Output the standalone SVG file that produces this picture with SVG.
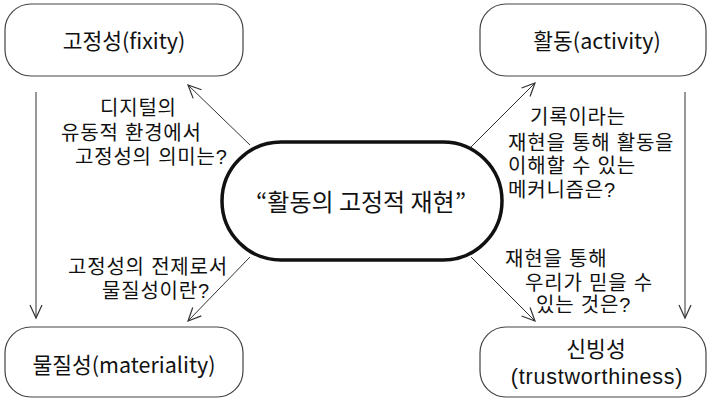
<svg xmlns="http://www.w3.org/2000/svg" width="708" height="398" viewBox="0 0 708 398">
<defs>
<marker id="arr" markerWidth="16" markerHeight="16" refX="14" refY="8" orient="auto" markerUnits="userSpaceOnUse">
<path d="M1,2 L14,8 L1,14" fill="none" stroke="#333" stroke-width="1.2"/>
</marker>
<style>
.box{fill:#fff;stroke:#444;stroke-width:1.2}
.pill{fill:#fff;stroke:#111;stroke-width:3.5}
.lbl{font-family:"Noto Sans CJK KR","Noto Sans",sans-serif;font-size:21.5px;fill:#111;text-anchor:middle}
.lbl2{font-family:"Liberation Sans","Noto Sans CJK KR",sans-serif;font-size:21.5px;fill:#111;text-anchor:middle}
.q{font-family:"Liberation Sans","Noto Sans CJK KR",sans-serif;font-size:20px;letter-spacing:0.8px;fill:#111}
.ctr{font-family:"Noto Sans CJK KR","Noto Sans",sans-serif;font-size:24px;fill:#111;text-anchor:middle}
.c{stroke:#333;stroke-width:1;fill:none;marker-end:url(#arr)}
</style>
</defs>
<rect width="708" height="398" fill="#fff"/>
<g id="connectors">
<line class="c" x1="36" y1="92" x2="36" y2="318"/>
<line class="c" x1="685" y1="92" x2="685" y2="318"/>
<line class="c" x1="250" y1="145" x2="188" y2="85"/>
<line class="c" x1="471" y1="147" x2="535" y2="83"/>
<line class="c" x1="250" y1="257" x2="188" y2="321"/>
<line class="c" x1="471" y1="257" x2="535" y2="321"/>
</g>
<g id="fixity">
<rect class="box" x="5" y="4" width="238" height="72" rx="26"/>
<text class="lbl" x="124" y="49">고정성(fixity)</text>
</g>
<g id="activity">
<rect class="box" x="480" y="4" width="226" height="72" rx="26"/>
<text class="lbl" x="597" y="49">활동(activity)</text>
</g>
<g id="materiality">
<rect class="box" x="5" y="327" width="238" height="70" rx="26"/>
<text class="lbl" x="124" y="373">물질성(materiality)</text>
</g>
<g id="trustworthiness">
<rect class="box" x="480" y="327" width="226" height="70" rx="26"/>
<text class="lbl2"><tspan x="596" y="357">신빙성</tspan><tspan x="597" y="384" style="letter-spacing:0.8px">(trustworthiness)</tspan></text>
</g>
<g id="center">
<rect class="pill" x="222" y="142" width="280" height="118" rx="59"/>
<text class="ctr" x="361" y="211">“활동의 고정적 재현”</text>
</g>
<g id="q-fixity">
<text class="q"><tspan x="100" y="115">디지털의</tspan><tspan x="61" y="140">유동적 환경에서</tspan><tspan x="75" y="164">고정성의 의미는?</tspan></text>
</g>
<g id="q-activity">
<text class="q"><tspan x="530" y="124">기록이라는</tspan><tspan x="508" y="150">재현을 통해 활동을</tspan><tspan x="508" y="173">이해할 수 있는</tspan><tspan x="508" y="197">메커니즘은?</tspan></text>
</g>
<g id="q-materiality">
<text class="q"><tspan x="68" y="274">고정성의 전제로서</tspan><tspan x="102" y="298">물질성이란?</tspan></text>
</g>
<g id="q-trust">
<text class="q"><tspan x="505" y="266">재현을 통해</tspan><tspan x="525" y="290">우리가 믿을 수</tspan><tspan x="536" y="312">있는 것은?</tspan></text>
</g>
</svg>
